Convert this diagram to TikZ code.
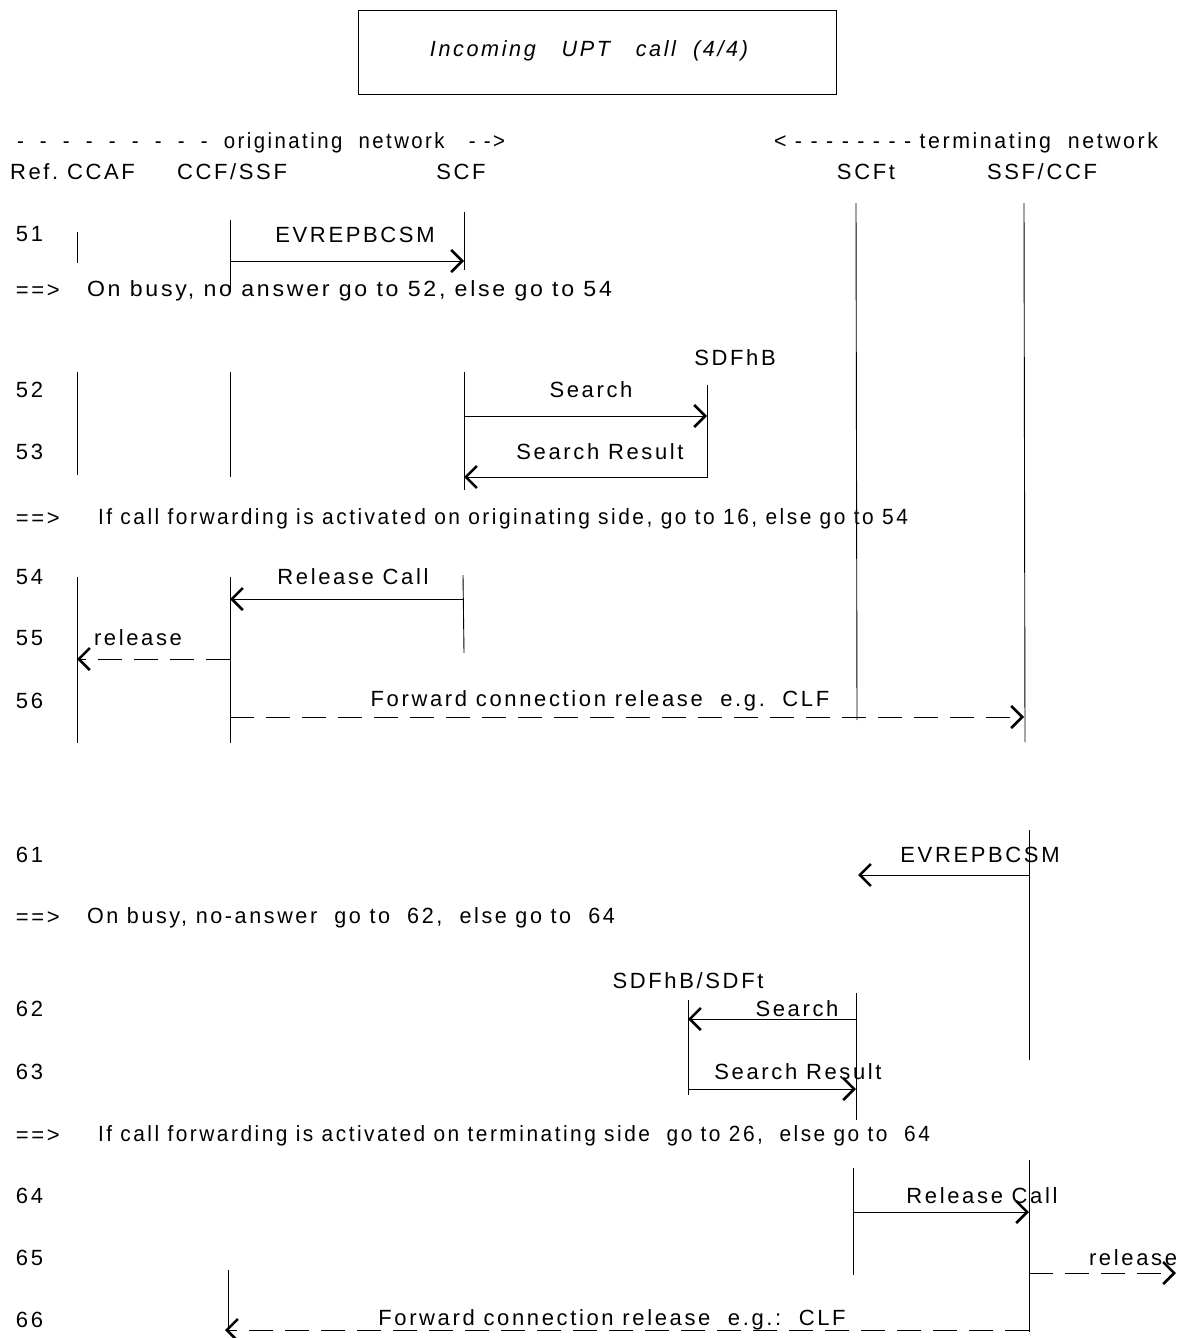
\documentclass[tikz,border=0pt]{standalone}
\usepackage{fontspec}
\setmainfont{Liberation Sans}[LetterSpace=12]
\usetikzlibrary{arrows.meta}
\newcommand\fitw[2]{\resizebox{#1}{\height}{#2}}
\begin{document}
\begin{tikzpicture}[x=1pt,y=-1pt,
  every node/.style={inner sep=0pt,outer sep=0pt,font=\fontsize{22}{26}\selectfont},
  life/.style={line width=0.9pt},
  msg/.style={line width=0.9pt,-{Straight Barb[length=11pt,width=22pt,line width=2.6pt]}},
  dmsg/.style={msg,dash pattern=on 24pt off 12pt},
  lbl/.style={anchor=center},
  lft/.style={anchor=west}]
\useasboundingbox (0,0) rectangle (1179,1338);
% title
\node[draw,line width=0.9pt,minimum width=478pt,minimum height=84pt] (title) at (597,52) {};
\node[font=\fontsize{22}{26}\selectfont\itshape] (titletext) at (589,51) {\fitw{318pt}{Incoming\ \ \ UPT\ \ \ call\ \ (4/4)}};
% headers
\node[lft] (orig) at (17,143) {\fitw{488pt}{-\ \ -\ \ -\ \ -\ \ -\ \ -\ \ -\ \ -\ \ -\ \ originating\ \ network\ \ \ -\ ->}};
\node[lft] (term) at (774,143) {\fitw{384pt}{<\ -\ -\ -\ -\ -\ -\ -\ -\ terminating\ \ network}};
\node[lft] (hccaf) at (10,172) {Ref.\ CCAF};
\node[lft] (hccf) at (177,172) {CCF/SSF};
\node[lbl] (hscf) at (461,172) {SCF};
\node[lbl] (hscft) at (866,172) {SCFt};
\node[lbl] (hssf) at (1042,172) {SSF/CCF};
% long lifelines
\coordinate (scftA) at (856,203); \coordinate (scftB) at (857,720);
\coordinate (ssfA) at (1024,203); \coordinate (ssfB) at (1025,742);
\draw[life] (scftA) -- (scftB);
\draw[life] (ssfA) -- (ssfB);
% 51
\node[lft] (n51) at (16,234) {51};
\coordinate (a1) at (77,232); \coordinate (a2) at (77,263);
\coordinate (b1) at (230,220); \coordinate (b2) at (230,292);
\coordinate (c1) at (464,212); \coordinate (c2) at (464,270);
\draw[life] (a1)--(a2); \draw[life] (b1)--(b2); \draw[life] (c1)--(c2);
\coordinate (m51s) at (230,261); \coordinate (m51e) at (464,261);
\draw[msg] (m51s) -- (m51e);
\node[lbl] (l51) at (355,235) {EVREPBCSM};
\node[lft] (r1a) at (16,291) {==>};
\node[lft] (r1) at (87,291) {\fitw{525pt}{On busy, no answer go to 52, else go to 54}};
% 52-53
\node[lbl] (hsdf) at (735,358) {SDFhB};
\node[lft] (n52) at (16,390) {52};
\node[lft] (n53) at (16,452) {53};
\coordinate (a3) at (77,372); \coordinate (a4) at (77,475);
\coordinate (b3) at (230,372); \coordinate (b4) at (230,477);
\coordinate (c3) at (464,372); \coordinate (c4) at (464,490);
\coordinate (d3) at (707,385); \coordinate (d4) at (707,478);
\draw[life] (a3)--(a4); \draw[life] (b3)--(b4); \draw[life] (c3)--(c4); \draw[life] (d3)--(d4);
\coordinate (m52s) at (464,416); \coordinate (m52e) at (707,416);
\draw[msg] (m52s) -- (m52e);
\node[lbl] (l52) at (591,390) {Search};
\coordinate (m53s) at (707,477); \coordinate (m53e) at (464,477);
\draw[msg] (m53s) -- (m53e);
\node[lbl] (l53) at (600,452) {Search Result};
\node[lft] (r2a) at (16,519) {==>};
\node[lft] (r2) at (98,519) {\fitw{810pt}{If call forwarding is activated on originating side, go to 16, else go to 54}};
% 54-56
\node[lft] (n54) at (16,577) {54};
\node[lft] (n55) at (16,638) {55};
\node[lft] (n56) at (16,701) {56};
\coordinate (a5) at (77,577); \coordinate (a6) at (77,743);
\coordinate (b5) at (230,577); \coordinate (b6) at (230,743);
\coordinate (c5) at (463,575); \coordinate (c6) at (464,653);
\draw[life] (a5)--(a6); \draw[life] (b5)--(b6); \draw[life] (c5)--(c6);
\coordinate (m54s) at (464,599); \coordinate (m54e) at (230,599);
\draw[msg] (m54s) -- (m54e);
\node[lbl] (l54) at (353,577) {Release Call};
\coordinate (m55s) at (230,659); \coordinate (m55e) at (77,659);
\draw[dmsg] (m55s) -- (m55e);
\node[lbl] (l55) at (138,638) {release};
\coordinate (m56s) at (230,717); \coordinate (m56e) at (1024,717);
\draw[dmsg] (m56s) -- (m56e);
\node[lbl] (l56) at (600,701) {Forward connection release\ \ e.g.\ \ CLF};
% 61
\node[lft] (n61) at (16,855) {61};
\coordinate (e1) at (1029,830); \coordinate (e2) at (1029,1060);
\draw[life] (e1)--(e2);
\coordinate (m61s) at (1029,875); \coordinate (m61e) at (858,875);
\draw[msg] (m61s) -- (m61e);
\node[lbl] (l61) at (980,855) {EVREPBCSM};
\node[lft] (r3a) at (16,918) {==>};
\node[lft] (r3) at (87,918) {\fitw{528pt}{On busy, no-answer\ \ go to\ \ 62,\ \ else go to\ \ 64}};
% 62-63
\node[lbl] (hsdft) at (688,981) {SDFhB/SDFt};
\node[lft] (n62) at (16,1009) {62};
\node[lft] (n63) at (16,1072) {63};
\coordinate (f1) at (688,1000); \coordinate (f2) at (688,1095);
\coordinate (g1) at (856,993); \coordinate (g2) at (856,1120);
\draw[life] (f1)--(f2); \draw[life] (g1)--(g2);
\coordinate (m62s) at (856,1019); \coordinate (m62e) at (688,1019);
\draw[msg] (m62s) -- (m62e);
\node[lbl] (l62) at (797,1009) {Search};
\coordinate (m63s) at (688,1089); \coordinate (m63e) at (856,1089);
\draw[msg] (m63s) -- (m63e);
\node[lbl] (l63) at (798,1072) {Search Result};
\node[lft] (r4a) at (16,1136) {==>};
\node[lft] (r4) at (98,1136) {\fitw{832pt}{If call forwarding is activated on terminating side\ \ go to 26,\ \ else go to\ \ 64}};
% 64-66
\node[lft] (n64) at (16,1196) {64};
\node[lft] (n65) at (16,1258) {65};
\node[lft] (n66) at (16,1320) {66};
\coordinate (h1) at (853,1168); \coordinate (h2) at (853,1275);
\coordinate (k1) at (1029,1160); \coordinate (k2) at (1029,1332);
\coordinate (j1) at (228,1270); \coordinate (j2) at (228,1332);
\draw[life] (h1)--(h2); \draw[life] (k1)--(k2); \draw[life] (j1)--(j2);
\coordinate (m64s) at (853,1212); \coordinate (m64e) at (1029,1212);
\draw[msg] (m64s) -- (m64e);
\node[lbl] (l64) at (982,1196) {Release Call};
\coordinate (m65s) at (1029,1273); \coordinate (m65e) at (1176,1273);
\draw[dmsg] (m65s) -- (m65e);
\node[lbl] (l65) at (1133,1258) {release};
\coordinate (m66s) at (1029,1330); \coordinate (m66e) at (225,1330);
\draw[dmsg] (m66s) -- (m66e);
\node[lbl] (l66) at (612,1320) {Forward connection release\ \ e.g.:\ \ CLF};
\end{tikzpicture}
\end{document}
